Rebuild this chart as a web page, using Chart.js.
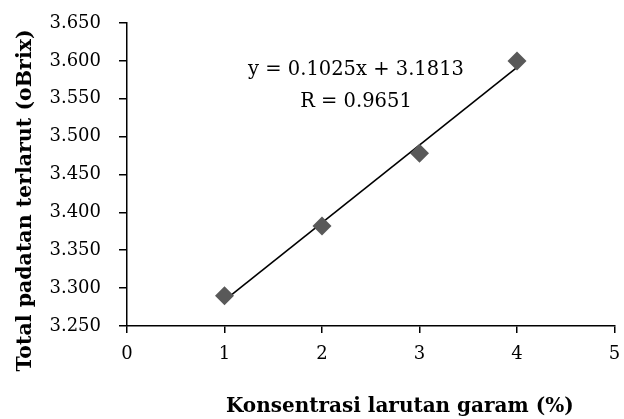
<!DOCTYPE html>
<html>
<head>
<meta charset="utf-8">
<script src="https://cdn.jsdelivr.net/npm/chart.js@4/dist/chart.umd.min.js"></script>
<style>
  html, body { margin: 0; padding: 0; background: #fff; }
  #wrap { width: 624px; height: 419px; }
</style>
</head>
<body>
<div id="wrap"><canvas id="brixChart" width="624" height="419"></canvas></div>
<script>
// konsentrasi garam (%) dan total padatan terlarut (oBrix)
const konsentrasi = [1, 2, 3, 4];
const totalPadatan = [3.290, 3.382, 3.478, 3.600];
// ujung garis tren (y = 0.1025x + 3.1813)
const trendX = [1, 4];
const trendY = [3.2838, 3.5913];
const equationText = ['y = 0.1025x + 3.1813', 'R = 0.9651'];

const serif = "'DejaVu Serif', serif";

// judul sumbu di gambar asli tidak persis di tengah sumbu, geser sedikit
function shiftTitle(scale, dx, dy) {
    if (scale._titleShifted) return;
    const orig = scale.drawTitle.bind(scale);
    scale.drawTitle = function () {
        scale.ctx.save();
        scale.ctx.translate(dx, dy);
        orig();
        scale.ctx.restore();
    };
    scale._titleShifted = true;
}

const equationLabel = {
    id: 'equationLabel',
    afterDraw(chart) {
        const ctx = chart.ctx;
        const area = chart.chartArea;
        ctx.save();
        ctx.font = '19.5px ' + serif;
        ctx.fillStyle = '#000';
        ctx.textAlign = 'center';
        ctx.textBaseline = 'middle';
        ctx.fillText(equationText[0], area.left + 229, area.top + 47);
        ctx.fillText(equationText[1], area.left + 229, area.top + 79);
        ctx.restore();
    }
};

const config = {
    type: 'scatter',
    data: {
        datasets: [
            {
                label: 'Total padatan',
                data: konsentrasi.map((x, i) => ({ x: x, y: totalPadatan[i] })),
                pointStyle: 'rectRot',
                pointRadius: 9.5,
                pointHoverRadius: 9.5,
                backgroundColor: '#595959',
                borderColor: '#595959',
                borderWidth: 0
            },
            {
                label: 'Linear',
                type: 'line',
                data: trendX.map((x, i) => ({ x: x, y: trendY[i] })),
                borderColor: '#000',
                borderWidth: 1.6,
                pointRadius: 0,
                fill: false
            }
        ]
    },
    options: {
        responsive: false,
        animation: false,
        layout: { padding: { top: 23, right: 3, left: 0, bottom: 0 } },
        plugins: {
            legend: { display: false },
            tooltip: { enabled: false }
        },
        scales: {
            x: {
                type: 'linear',
                min: 0,
                max: 5,
                afterFit: s => {
                    s.height = 93; s.paddingLeft = 0; s.paddingRight = 0;
                    shiftTitle(s, 29, 2);
                },
                ticks: {
                    stepSize: 1,
                    color: '#000',
                    font: { family: serif, size: 18 },
                    padding: 11
                },
                grid: { drawOnChartArea: false, drawTicks: true, tickLength: 7, color: '#000', lineWidth: 1.5 },
                border: { color: '#000', width: 1.5 },
                title: {
                    display: true,
                    text: 'Konsentrasi larutan garam (%)',
                    color: '#000',
                    font: { family: serif, size: 20, weight: 'bold' },
                    padding: { top: 0, bottom: 2 }
                }
            },
            y: {
                type: 'linear',
                min: 3.25,
                max: 3.65,
                afterFit: s => {
                    s.width = 127; s.paddingTop = 0; s.paddingBottom = 0;
                    shiftTitle(s, -2, 26);
                },
                ticks: {
                    stepSize: 0.05,
                    color: '#000',
                    font: { family: serif, size: 18 },
                    padding: 18,
                    callback: v => v.toFixed(3)
                },
                grid: { drawOnChartArea: false, drawTicks: true, tickLength: 8, color: '#000', lineWidth: 1.5 },
                border: { color: '#000', width: 1.5 },
                title: {
                    display: true,
                    text: 'Total padatan terlarut (oBrix)',
                    color: '#000',
                    font: { family: serif, size: 20.5, weight: 'bold' },
                    padding: { top: 15, bottom: 0 }
                }
            }
        }
    },
    plugins: [equationLabel]
};

new Chart(document.getElementById('brixChart'), config);
</script>
</body>
</html>
